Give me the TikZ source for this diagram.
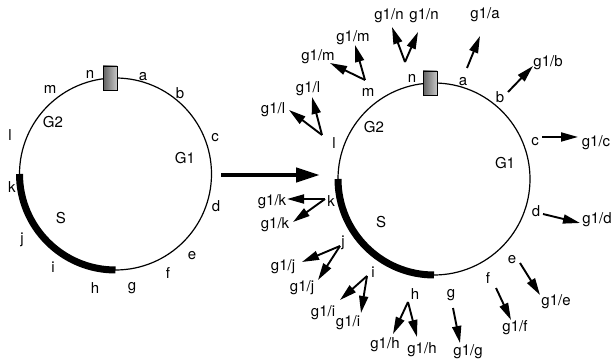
\documentclass[tikz,border=0pt]{standalone}
\usepackage{fontspec}
\setmainfont{TeX Gyre Heros}
\usetikzlibrary{arrows.meta}
\begin{document}
\begin{tikzpicture}[x=1pt,y=-1pt,
  lab/.style={inner sep=0pt, font=\fontsize{15}{18}\selectfont, text height=10.8pt, text depth=0pt},
  glab/.style={lab, text depth=3.2pt},
  ring/.style={circle, draw, line width=1.2pt, minimum size=192pt, inner sep=0pt, outer sep=0pt},
  sphase/.style={line width=7pt},
  ptr/.style={line width=1.9pt, -{Triangle[length=17pt,width=9pt]}},
  bigarrow/.style={line width=4.5pt, -{Triangle[length=24pt,width=14pt]}},
  marker/.style={draw, line width=0.8pt, minimum width=14pt, minimum height=24pt,
    inner sep=0pt, left color=black!62, right color=black!22}]
\useasboundingbox (0,0) rectangle (613,363);

% ---------- left cell cycle ----------
\node[ring] (cellL) at (115.5,174) {};
\draw[sphase] (cellL.west) arc[start angle=180, end angle=270, radius=96pt];
\node[marker] (mkL) at (110,78) {};

\node[lab] (Ln) at (90,73) {n};
\node[lab] (La) at (143,75) {a};
\node[lab] (Lm) at (50,88) {m};
\node[lab] (Lb) at (180,93) {b};
\node[lab] (LG2) at (53,122) {G2};
\node[lab] (Ll) at (10,135) {l};
\node[lab] (Lc) at (215,136) {c};
\node[lab] (LG1) at (185,158) {G1};
\node[lab] (Lk) at (12,187) {k};
\node[lab] (Ld) at (216,206) {d};
\node[lab] (LS) at (61,218) {S};
\node[lab] (Lj) at (22,238) {j};
\node[lab] (Le) at (192,254) {e};
\node[lab] (Li) at (53,267) {i};
\node[lab] (Lf) at (168,273) {f};
\node[lab] (Lh) at (95,288) {h};
\node[lab] (Lg) at (132,285) {g};

% ---------- transition arrow ----------
\coordinate (bigA) at (221,175);
\coordinate (bigB) at (320,175);
\draw[bigarrow] (bigA) -- (bigB);

% ---------- right cell cycle ----------
\node[ring] (cellR) at (434,179) {};
\draw[sphase] (cellR.west) arc[start angle=180, end angle=270, radius=96pt];
\node[marker] (mkR) at (430,83) {};

\node[lab] (Rn) at (412,77) {n};
\node[lab] (Ra) at (463,80) {a};
\node[lab] (Rm) at (368,91) {m};
\node[lab] (RG2) at (374,127) {G2};
\node[lab] (Rl) at (334,143) {l};
\node[lab] (Rb) at (500,97) {b};
\node[lab] (Rc) at (535,140) {c};
\node[lab] (RG1) at (505,163) {G1};
\node[lab] (Rd) at (536,211) {d};
\node[lab] (Re) at (512,258) {e};
\node[lab] (Rf) at (488,278) {f};
\node[lab] (Rk) at (331,201) {k};
\node[lab] (RS) at (381,222) {S};
\node[lab] (Rj) at (343,241) {j};
\node[lab] (Ri) at (373,272) {i};
\node[lab] (Rh) at (415,294) {h};
\node[lab] (Rg) at (451,292) {g};

% daughter labels
\node[glab] (gn1) at (389,16) {g1/n};
\node[glab] (gn2) at (424,16) {g1/n};
\node[glab] (gm1) at (353,38) {g1/m};
\node[glab] (gm2) at (318,57) {g1/m};
\node[glab] (gl1) at (308,89) {g1/l};
\node[glab] (gl2) at (273,110) {g1/l};
\node[glab] (ga) at (485,15) {g1/a};
\node[glab] (gb) at (548,63) {g1/b};
\node[glab] (gc) at (596,143) {g1/c};
\node[glab] (gd) at (597,220) {g1/d};
\node[glab] (ge) at (556,302) {g1/e};
\node[glab] (gf) at (515,328) {g1/f};
\node[glab] (gg) at (468,352) {g1/g};
\node[glab] (gh1) at (385,345) {g1/h};
\node[glab] (gh2) at (422,350) {g1/h};
\node[glab] (gi1) at (323,313) {g1/i};
\node[glab] (gi2) at (348,323) {g1/i};
\node[glab] (gj1) at (283,267) {g1/j};
\node[glab] (gj2) at (302,288) {g1/j};
\node[glab] (gk1) at (272,202) {g1/k};
\node[glab] (gk2) at (275,225) {g1/k};

% arrow origins and tips
\coordinate (sn) at (405,62);  \coordinate (tn1) at (392,27);  \coordinate (tn2) at (418,32);
\coordinate (sm) at (365,80);  \coordinate (tm1) at (355,45);  \coordinate (tm2) at (330,63);
\coordinate (sl) at (322,135); \coordinate (tl1) at (312,97);  \coordinate (tl2) at (289,110);
\coordinate (sa) at (467,68);  \coordinate (ta) at (480,36);
\coordinate (sb) at (508,92);  \coordinate (tb) at (533,66);
\coordinate (sc) at (542,137); \coordinate (tc) at (578,137);
\coordinate (sd) at (543,214); \coordinate (td) at (580,223);
\coordinate (se) at (520,263); \coordinate (te) at (540,295);
\coordinate (sf) at (496,288); \coordinate (tf) at (511,320);
\coordinate (sg) at (453,308); \coordinate (tg) at (460,343);
\coordinate (sh) at (408,302); \coordinate (th1) at (393,334); \coordinate (th2) at (417,337);
\coordinate (si) at (367,276); \coordinate (ti1) at (340,300); \coordinate (ti2) at (361,313);
\coordinate (sj) at (340,246); \coordinate (tj1) at (302,262); \coordinate (tj2) at (318,280);
\coordinate (sk) at (325,199); \coordinate (tk1) at (287,199); \coordinate (tk2) at (293,222);

\foreach \s/\t in {sn/tn1, sn/tn2, sm/tm1, sm/tm2, sl/tl1, sl/tl2, sa/ta, sb/tb,
  sc/tc, sd/td, se/te, sf/tf, sg/tg, sh/th1, sh/th2, si/ti1, si/ti2,
  sj/tj1, sj/tj2, sk/tk1, sk/tk2}
  \draw[ptr] (\s) -- (\t);
\end{tikzpicture}
\end{document}
